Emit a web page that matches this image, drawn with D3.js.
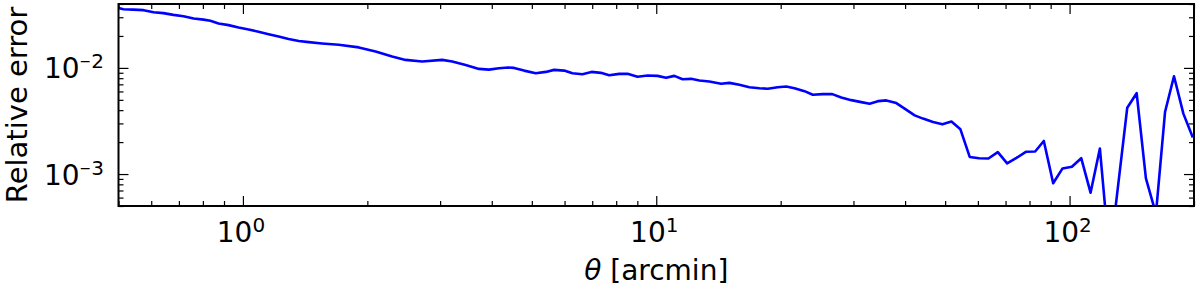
<!DOCTYPE html>
<meta charset="utf-8">
<style>
    body { margin: 0; background: #fff; }
    svg text { font-family: "DejaVu Sans", sans-serif; fill: #000; }
</style>
<script src="https://d3js.org/d3.v7.min.js"></script>
<svg id="chart" width="1200" height="292"></svg>
<script>
    // separation theta [arcmin]
    var theta = [0.5, 0.514, 0.543, 0.575, 0.608, 0.642, 0.679, 0.718, 0.760, 0.803,
        0.834, 0.873, 0.923, 0.976, 1.032, 1.091, 1.154, 1.220, 1.290, 1.365,
        1.443, 1.554, 1.705, 1.907, 2.094, 2.296, 2.474, 2.715, 3.034, 3.209,
        3.458, 3.725, 3.939, 4.165, 4.386, 4.528, 4.788, 5.111, 5.404, 5.661,
        5.986, 6.269, 6.628, 6.969, 7.345, 7.694, 8.136, 8.521, 9.011, 9.526,
        10.07, 10.56, 11.06, 11.58, 12.14, 12.72, 13.44, 14.35, 15.03, 15.89,
        16.80, 17.77, 18.61, 19.67, 20.63, 21.60, 22.84, 23.92, 25.29, 26.66,
        28.03, 29.64, 31.33, 32.82, 34.38, 36.03, 38.09, 39.90, 42.19, 44.19,
        46.73, 49.25, 51.78, 54.44, 57.33, 60.39, 63.63, 67.05, 70.62, 74.39,
        78.38, 82.55, 86.63, 91.27, 96.16, 101.3, 106.7, 112.4, 118.4, 125.0,
        137.9, 145.3, 153.0, 161.8, 170.2, 178.9, 188.5, 198.7];

    // relative error
    var relErr = [0.0367, 0.0357, 0.0354, 0.0350, 0.0335, 0.0328, 0.0316, 0.0307, 0.0292, 0.0285,
        0.0278, 0.0262, 0.0253, 0.0240, 0.0230, 0.0219, 0.0208, 0.0198, 0.0187, 0.0179,
        0.0175, 0.0170, 0.0165, 0.0156, 0.0143, 0.0128, 0.0119, 0.0115, 0.0119, 0.0115,
        0.01067, 0.00979, 0.00964, 0.00991, 0.0101, 0.0100, 0.00943, 0.00890, 0.00917, 0.00958,
        0.00943, 0.00890, 0.00871, 0.00917, 0.00898, 0.00852, 0.00879, 0.00879, 0.00824, 0.00847,
        0.00841, 0.00806, 0.00841, 0.00782, 0.00789, 0.00760, 0.00744, 0.00708, 0.00723, 0.00693,
        0.00658, 0.00644, 0.00636, 0.00658, 0.00668, 0.00644, 0.00604, 0.00558, 0.00566, 0.00566,
        0.00527, 0.00497, 0.00476, 0.00460, 0.00486, 0.00494, 0.00466, 0.00413, 0.00357, 0.00333,
        0.00309, 0.00294, 0.00312, 0.00264, 0.00145, 0.00141, 0.00140, 0.00161, 0.00126, 0.00142,
        0.00162, 0.00163, 0.00205, 0.000818, 0.00113, 0.00117, 0.00141, 0.000668, 0.00174, 0.000163,
        0.00422, 0.00578, 0.000911, 0.000422, 0.00384, 0.00834, 0.00371, 0.00221];

    var xDomain = [0.5, 200];
    var yDomain = [5e-4, 4e-2];
    var xMajor = [1, 10, 100];
    var xExp = ["0", "1", "2"];
    var yMajor = [1e-3, 1e-2];
    var yExp = ["3", "2"];   // negative exponents, minus sign added below

    var svg = d3.select("#chart"),
        width = +svg.attr("width"),
        height = +svg.attr("height");
    var margin = {top: 4, right: 6, bottom: 86, left: 118.5};

    var x = d3.scaleLog().domain(xDomain).range([margin.left, width - margin.right]);
    var y = d3.scaleLog().domain(yDomain).range([height - margin.bottom, margin.top]);

    function isDecade(v) {
        var l = Math.log10(v);
        return Math.abs(l - Math.round(l)) < 1e-6;
    }
    var xMinor = x.ticks().filter(function(v) { return !isDecade(v); });
    var yMinor = y.ticks().filter(function(v) { return !isDecade(v); });

    svg.append("clipPath").attr("id", "plotclip")
        .append("rect")
        .attr("x", margin.left).attr("y", margin.top)
        .attr("width", width - margin.right - margin.left)
        .attr("height", height - margin.bottom - margin.top);

    // the curve
    var line = d3.line()
        .x(function(d) { return x(d[0]); })
        .y(function(d) { return y(d[1]); });

    svg.append("path")
        .datum(d3.zip(theta, relErr))
        .attr("clip-path", "url(#plotclip)")
        .attr("d", line)
        .attr("fill", "none")
        .attr("stroke", "#0000ff")
        .attr("stroke-width", 2.6)
        .attr("stroke-linejoin", "round");

    // inward ticks on all four sides
    function ticks(axisFn, scale, values, size, tx, ty) {
        svg.append("g")
            .attr("transform", "translate(" + tx + "," + ty + ")")
            .call(axisFn(scale).tickValues(values).tickSize(size).tickFormat(""))
            .call(function(g) { g.select(".domain").remove(); })
            .selectAll("line").attr("stroke-width", 1.2);
    }
    var bottom = height - margin.bottom, right = width - margin.right;
    ticks(d3.axisBottom, x, xMajor, -10, 0, bottom);
    ticks(d3.axisBottom, x, xMinor, -5, 0, bottom);
    ticks(d3.axisTop, x, xMajor, -10, 0, margin.top);
    ticks(d3.axisTop, x, xMinor, -5, 0, margin.top);
    ticks(d3.axisLeft, y, yMajor, -10, margin.left, 0);
    ticks(d3.axisLeft, y, yMinor, -5, margin.left, 0);
    ticks(d3.axisRight, y, yMajor, -10, right, 0);
    ticks(d3.axisRight, y, yMinor, -5, right, 0);

    // frame
    svg.append("rect")
        .attr("x", margin.left).attr("y", margin.top)
        .attr("width", right - margin.left)
        .attr("height", bottom - margin.top)
        .attr("fill", "none")
        .attr("stroke", "#000")
        .attr("stroke-width", 2);

    // tick labels, 10^n
    xMajor.forEach(function(v, i) {
        var t = svg.append("text")
            .attr("x", x(v) - 2)
            .attr("y", 242)
            .attr("text-anchor", "middle");
        t.append("tspan").attr("font-size", 28).text("10");
        t.append("tspan").attr("font-size", 20).attr("dy", -10).text(xExp[i]);
    });
    yMajor.forEach(function(v, i) {
        var t = svg.append("text")
            .attr("x", 104)
            .attr("y", y(v) + 10.5)
            .attr("text-anchor", "end");
        t.append("tspan").attr("font-size", 28).text("10");
        t.append("tspan").attr("font-size", 14).attr("dy", -12).text("\u2212");
        t.append("tspan").attr("font-size", 20).attr("dy", 2).text(yExp[i]);
    });

    // axis titles
    svg.append("text")
        .attr("transform", "translate(27," + (margin.top + bottom) / 2 + ") rotate(-90)")
        .attr("text-anchor", "middle")
        .attr("font-size", 29)
        .text("Relative error");

    var xl = svg.append("text")
        .attr("x", (margin.left + right) / 2)
        .attr("y", 280)
        .attr("text-anchor", "middle")
        .attr("font-size", 28);
    xl.append("tspan").attr("font-style", "italic").text("\u03b8");
    xl.append("tspan").text(" [arcmin]");
</script>
